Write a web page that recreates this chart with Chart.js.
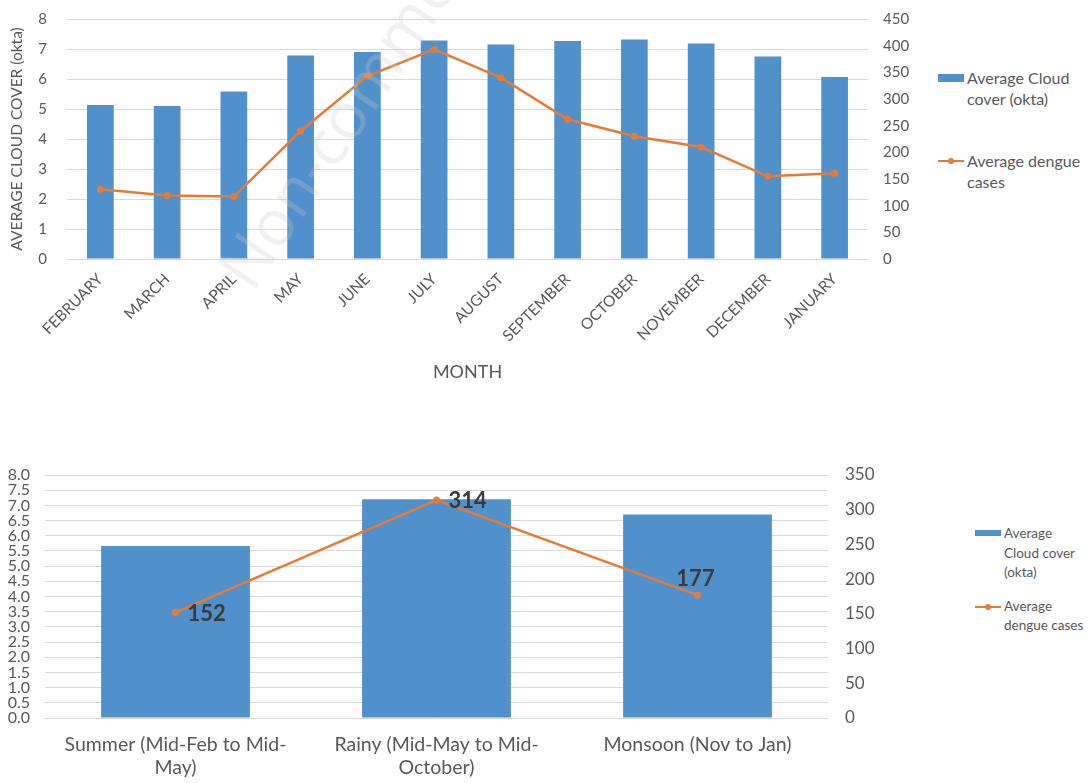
<!DOCTYPE html>
<html>
<head>
<meta charset="utf-8">
<script src="https://cdn.jsdelivr.net/npm/chart.js@4.4.1/dist/chart.umd.min.js"></script>
<style>
  body { margin: 0; background: #fff; width: 1090px; height: 783px; position: relative; overflow: hidden; font-family: Lato, "Open Sans", sans-serif; color: #595959; }
  canvas { position: absolute; }
  #monthly { left: 0; top: 0; }
  #seasonal { left: 0; top: 440px; }
  .legend { position: absolute; color: #595959; }
  .legend .item { position: relative; padding-left: 29px; }
  .legend .box { position: absolute; left: 0; width: 26px; height: 8px; background: #5090CB; }
  .legend .line { position: absolute; left: 0; width: 26px; height: 2px; background: #E57B37; }
  .legend .dot { position: absolute; left: 10px; width: 6px; height: 6px; border-radius: 50%; background: #E57B37; }
  #legend1 { left: 938px; top: 67px; font-size: 16px; line-height: 21px; }
  #legend2 { left: 975px; top: 524px; font-size: 13.5px; line-height: 19.5px; }
  .wm { position: absolute; left: 232px; top: 236px; font-size: 64px; font-family: "Open Sans", sans-serif; color: rgba(200,200,200,0.28); transform-origin: 0 50%; transform: rotate(-56deg); white-space: nowrap; pointer-events: none; }
</style>
</head>
<body>
<canvas id="monthly" width="930" height="390"></canvas>
<canvas id="seasonal" width="890" height="343"></canvas>

<div class="legend" id="legend1">
  <div class="item" style="height:42px"><span class="box" style="top:7px"></span>Average Cloud<br>cover (okta)</div>
  <div class="item" style="margin-top:41px"><span class="line" style="top:10px"></span><span class="dot" style="top:8px"></span>Average dengue<br>cases</div>
</div>

<div class="legend" id="legend2">
  <div class="item"><span class="box" style="top:6px;height:6px"></span>Average<br>Cloud cover<br>(okta)</div>
  <div class="item" style="margin-top:14px"><span class="line" style="top:9px"></span><span class="dot" style="top:7px"></span>Average<br>dengue cases</div>
</div>

<div class="wm">Non-commercial</div>

<script>
// Monthly averages
const months = ['FEBRUARY', 'MARCH', 'APRIL', 'MAY', 'JUNE', 'JULY', 'AUGUST', 'SEPTEMBER', 'OCTOBER', 'NOVEMBER', 'DECEMBER', 'JANUARY'];
const monthlyCloudCover = [5.13, 5.1, 5.58, 6.78, 6.9, 7.28, 7.15, 7.27, 7.32, 7.18, 6.75, 6.07];
const monthlyDengueCases = [131, 119, 117, 240, 343, 393, 340, 262, 230, 210, 155, 161];

// Seasonal averages
const seasons = [['Summer (Mid-Feb to Mid-', 'May)'], ['Rainy (Mid-May to Mid-', 'October)'], ['Monsoon (Nov to Jan)']];
const seasonalCloudCover = [5.66, 7.2, 6.7];
const seasonalDengueCases = [152, 314, 177];

const BAR = '#5090CB';
const LINE = '#E57B37';
const GRID = '#D9D9D9';
const TEXT = '#595959';
const FONT = 'Lato, "Open Sans", sans-serif';

Chart.defaults.font.family = FONT;
Chart.defaults.color = TEXT;

function fixedWidth(w) { return scale => { scale.width = w; }; }
function fixedHeight(h) { return scale => { scale.height = h; }; }

// Writes each dengue value next to its point
const pointValueLabels = {
  id: 'pointValueLabels',
  afterDatasetsDraw(chart, args, opts) {
    if (!opts.enabled) return;
    const ctx = chart.ctx;
    const meta = chart.getDatasetMeta(1);
    const values = chart.data.datasets[1].data;
    ctx.save();
    ctx.font = 'bold 22px ' + FONT;
    ctx.fillStyle = '#3A3A3A';
    ctx.textBaseline = 'middle';
    meta.data.forEach((pt, i) => {
      const pos = opts.positions[i];
      if (pos === 'above') {
        ctx.textAlign = 'center';
        ctx.fillText(String(values[i]), pt.x - 2, pt.y - 16);
      } else {
        ctx.textAlign = 'left';
        ctx.fillText(String(values[i]), pt.x + 12, pt.y + 1);
      }
    });
    ctx.restore();
  }
};

new Chart(document.getElementById('monthly'), {
  type: 'bar',
  data: {
    labels: months,
    datasets: [
      {
        type: 'bar', label: 'Average Cloud cover (okta)', data: monthlyCloudCover,
        backgroundColor: BAR, yAxisID: 'y', order: 2,
        categoryPercentage: 1, barPercentage: 0.4
      },
      {
        type: 'line', label: 'Average dengue cases', data: monthlyDengueCases,
        borderColor: LINE, backgroundColor: LINE, borderWidth: 2.5,
        pointRadius: 3.5, pointBackgroundColor: LINE, pointBorderWidth: 0,
        tension: 0, yAxisID: 'y1', order: 1
      }
    ]
  },
  options: {
    responsive: false, animation: false, events: [],
    layout: { padding: { top: 19, left: 0, right: 0, bottom: 0 } },
    plugins: { legend: { display: false }, tooltip: { enabled: false }, pointValueLabels: { enabled: false } },
    scales: {
      x: {
        offset: true,
        grid: { display: false, drawTicks: false },
        border: { display: false },
        ticks: { font: { size: 15.5 }, minRotation: 45, maxRotation: 45, padding: 11, autoSkip: false },
        title: { display: true, text: 'MONTH', font: { size: 18 }, padding: { top: 0, bottom: 7 } },
        afterFit: fixedHeight(131)
      },
      y: {
        position: 'left', min: 0, max: 8,
        grid: { color: GRID, lineWidth: 1, drawTicks: true, tickLength: 17, tickColor: 'transparent' },
        border: { display: false },
        ticks: { stepSize: 1, font: { size: 15 }, padding: 3 },
        title: { display: true, text: 'AVERAGE CLOUD COVER (okta)', font: { size: 15.5 }, padding: { top: 8, bottom: 0 } },
        afterFit: fixedWidth(67)
      },
      y1: {
        position: 'right', min: 0, max: 450,
        grid: { display: true, drawOnChartArea: false, color: 'transparent', drawTicks: true, tickLength: 12, tickColor: 'transparent' },
        border: { display: false },
        ticks: { stepSize: 50, font: { size: 15 }, padding: 3 },
        afterFit: fixedWidth(62)
      }
    }
  },
  plugins: [pointValueLabels]
});

new Chart(document.getElementById('seasonal'), {
  type: 'bar',
  data: {
    labels: seasons,
    datasets: [
      {
        type: 'bar', label: 'Average Cloud cover (okta)', data: seasonalCloudCover,
        backgroundColor: BAR, yAxisID: 'y', order: 2,
        categoryPercentage: 1, barPercentage: 0.57
      },
      {
        type: 'line', label: 'Average dengue cases', data: seasonalDengueCases,
        borderColor: LINE, backgroundColor: LINE, borderWidth: 2.5,
        pointRadius: 3.5, pointBackgroundColor: LINE, pointBorderWidth: 0,
        tension: 0, yAxisID: 'y1', order: 1
      }
    ]
  },
  options: {
    responsive: false, animation: false, events: [],
    layout: { padding: { top: 35, left: 0, right: 0, bottom: 0 } },
    plugins: {
      legend: { display: false }, tooltip: { enabled: false },
      pointValueLabels: { enabled: true, positions: ['right', 'right', 'above'] }
    },
    scales: {
      x: {
        offset: true,
        grid: { display: false, drawTicks: false },
        border: { display: false },
        ticks: { font: { size: 19.5, lineHeight: 1.2 }, maxRotation: 0, minRotation: 0, padding: 15, autoSkip: false },
        afterFit: fixedHeight(65)
      },
      y: {
        position: 'left', min: 0, max: 8,
        grid: { color: GRID, lineWidth: 1, drawTicks: false },
        border: { display: false },
        ticks: { stepSize: 0.5, autoSkip: false, font: { size: 16, lineHeight: 1 }, padding: 15,
                 callback: v => Number(v).toFixed(1) },
        afterFit: fixedWidth(45)
      },
      y1: {
        position: 'right', min: 0, max: 350,
        grid: { display: false, drawTicks: false },
        border: { display: false },
        ticks: { stepSize: 50, font: { size: 17 }, padding: 17 },
        afterFit: fixedWidth(62)
      }
    }
  },
  plugins: [pointValueLabels]
});
</script>
</body>
</html>
